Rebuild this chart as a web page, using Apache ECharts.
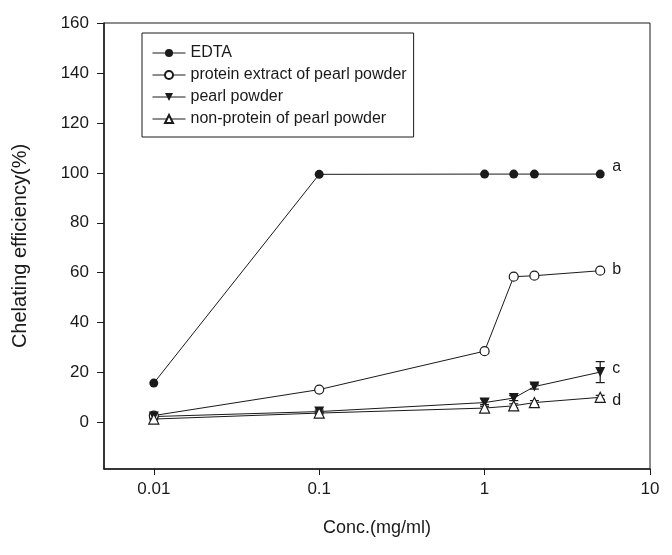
<!DOCTYPE html>
<html>
<head>
<meta charset="utf-8">
<script src="https://cdn.jsdelivr.net/npm/echarts@6/dist/echarts.min.js"></script>
<style>
  html, body { margin: 0; padding: 0; background: #fff; }
  #app { width: 672px; height: 555px; }
</style>
</head>
<body>
<div id="app"></div>
<script>
// concentrations (mg/ml), log x axis
const concentrations = [0.01, 0.1, 1, 1.5, 2, 5];

// chelating efficiency (%)
const edta = [15.8, 99.4, 99.5, 99.5, 99.5, 99.5];
const proteinExtract = [2.8, 13.2, 28.6, 58.4, 58.8, 60.8];
const pearlPowder = [2.4, 4.4, 8.0, 9.8, 14.4, 20.2];
const nonProtein = [1.4, 3.8, 5.8, 6.7, 8.0, 10.1];

// error bars (+/-)
const pearlPowderErr = [0.4, 0.6, 1.5, 1.0, 1.0, 4.2];
const nonProteinErr = [0.3, 0.4, 1.4, 0.8, 0.8, 0.8];

const seriesNames = ['EDTA', 'protein extract of pearl powder', 'pearl powder', 'non-protein of pearl powder'];
const endLetters = ['a', 'b', 'c', 'd'];

const xTicks = [0.01, 0.1, 1, 10];
const yTicks = [0, 20, 40, 60, 80, 100, 120, 140, 160];

const ink = '#1a1a1a';
const tickFont = '"Liberation Sans Narrow", "Liberation Sans", Arial, sans-serif';
const textFont = '"Liberation Sans", Arial, sans-serif';

const chart = echarts.init(document.getElementById('app'), null, {renderer: 'canvas'});

const pairs = (ys) => concentrations.map((x, i) => [x, ys[i]]);

const lineSeries = (name, ys, symbol, filled, letter, offset, rotate) => ({
    name,
    type: 'line',
    data: pairs(ys),
    symbol,
    symbolSize: symbol === 'circle' ? 9 : 10,
    symbolRotate: rotate || 0,
    showAllSymbol: true,
    lineStyle: {color: ink, width: 1},
    itemStyle: {
        color: filled ? ink : '#fff',
        borderColor: ink,
        borderWidth: filled ? 0 : 1.2
    },
    z: 3,
    endLabel: {
        show: true,
        formatter: letter,
        distance: 12,
        offset,
        fontFamily: textFont,
        fontSize: 16,
        color: ink
    }
});

const errorSeries = (ys, errs) => ({
    type: 'custom',
    data: concentrations.map((x, i) => [x, ys[i] - errs[i], ys[i] + errs[i]]),
    z: 2,
    renderItem: (params, api) => {
        const lo = api.coord([api.value(0), api.value(1)]);
        const hi = api.coord([api.value(0), api.value(2)]);
        const w = 4.5;
        const style = {stroke: ink, lineWidth: 1.2};
        return {
            type: 'group',
            children: [
                {type: 'line', shape: {x1: lo[0], y1: lo[1], x2: hi[0], y2: hi[1]}, style},
                {type: 'line', shape: {x1: lo[0] - w, y1: lo[1], x2: lo[0] + w, y2: lo[1]}, style},
                {type: 'line', shape: {x1: hi[0] - w, y1: hi[1], x2: hi[0] + w, y2: hi[1]}, style}
            ]
        };
    }
});

const option = {
    backgroundColor: '#fff',
    animation: false,
    grid: {
        left: 104,
        right: 22,
        top: 23,
        bottom: 86,
        show: true,
        borderColor: ink,
        borderWidth: 1,
        outerBoundsMode: 'none'
    },
    legend: {
        data: seriesNames,
        orient: 'vertical',
        left: 142,
        top: 33,
        itemWidth: 33,
        itemHeight: 10,
        itemGap: 6,
        padding: [12, 7, 10, 10],
        borderColor: ink,
        borderWidth: 1,
        selectedMode: false,
        lineStyle: {width: 1},
        textStyle: {fontFamily: textFont, fontSize: 16, color: ink}
    },
    xAxis: {
        type: 'log',
        logBase: 10,
        min: 0.005,
        max: 10,
        name: 'Conc.(mg/ml)',
        nameLocation: 'middle',
        nameGap: 50,
        nameTextStyle: {fontFamily: textFont, fontSize: 18, color: ink},
        axisLine: {onZero: false, lineStyle: {color: ink, width: 1.5}},
        axisTick: {inside: false, length: 6, lineStyle: {color: ink}, customValues: xTicks},
        axisLabel: {
            customValues: xTicks,
            margin: 12,
            fontFamily: tickFont,
            fontSize: 17,
            color: ink,
            formatter: (v) => String(v)
        },
        minorTick: {show: false},
        splitLine: {show: false}
    },
    yAxis: {
        type: 'value',
        min: -18.6,
        max: 160,
        name: 'Chelating efficiency(%)',
        nameLocation: 'middle',
        nameGap: 74,
        nameTextStyle: {fontFamily: textFont, fontSize: 20, color: ink},
        axisLine: {show: true, onZero: false, lineStyle: {color: ink, width: 1.5}},
        axisTick: {show: true, inside: false, length: 7, lineStyle: {color: ink}, customValues: yTicks},
        axisLabel: {
            customValues: yTicks,
            margin: 15,
            fontFamily: tickFont,
            fontSize: 17,
            color: ink
        },
        splitLine: {show: false}
    },
    series: [
        errorSeries(pearlPowder, pearlPowderErr),
        errorSeries(nonProtein, nonProteinErr),
        lineSeries(seriesNames[0], edta, 'circle', true, endLetters[0], [0, -7]),
        lineSeries(seriesNames[1], proteinExtract, 'circle', false, endLetters[1], [0, -1]),
        lineSeries(seriesNames[2], pearlPowder, 'triangle', true, endLetters[2], [0, -4], 180),
        lineSeries(seriesNames[3], nonProtein, 'triangle', false, endLetters[3], [0, 3])
    ]
};

chart.setOption(option);
addEventListener('resize', () => chart.resize());
</script>
</body>
</html>
